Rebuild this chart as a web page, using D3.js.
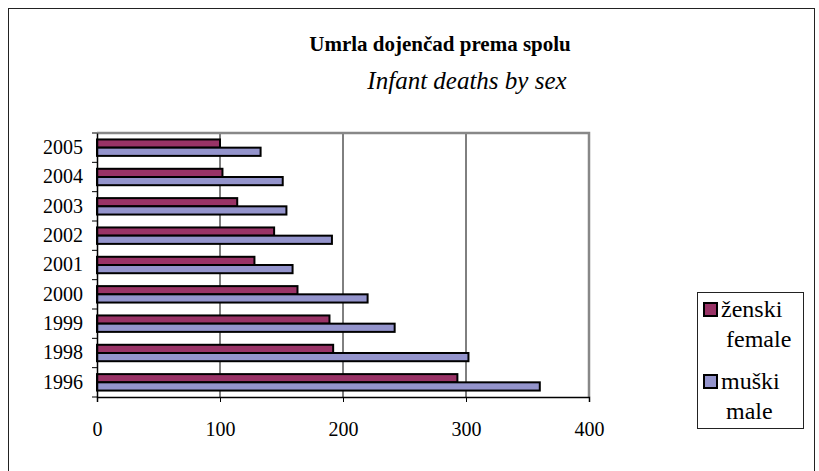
<!DOCTYPE html>
<html>
<head>
<meta charset="utf-8">
<script src="https://cdn.jsdelivr.net/npm/d3@7"></script>
<style>
	body { margin: 0; background: #fff; }
	svg { display: block; }
	svg text { font-family: 'Liberation Serif', 'Times New Roman', serif; fill: #000; }
</style>
</head>
<body>
<svg width="819" height="471"></svg>
<script>
// data
let years = ['2005', '2004', '2003', '2002', '2001', '2000', '1999', '1998', '1996'];
let female = [100, 102, 114, 144, 128, 163, 189, 192, 293];
let male = [133, 151, 154, 191, 159, 220, 242, 302, 360];
let xTicks = [0, 100, 200, 300, 400];
let seriesNames = [['ženski', 'female'], ['muški', 'male']];
let colors = ['#993366', '#9494cc'];

let svg = d3.select('svg');

// outer frame
svg.append('rect')
	.attr('x', 8.5).attr('y', 8.5)
	.attr('width', 806).attr('height', 480)
	.attr('fill', 'none')
	.attr('stroke', '#222')
	.attr('stroke-width', 1);

svg.append('text')
	.attr('x', 440).attr('y', 51)
	.attr('text-anchor', 'middle')
	.style('font-size', '21px')
	.style('font-weight', 'bold')
	.text('Umrla dojenčad prema spolu');

svg.append('text')
	.attr('x', 467).attr('y', 89)
	.attr('text-anchor', 'middle')
	.style('font-size', '25px')
	.style('font-style', 'italic')
	.text('Infant deaths by sex');

let margin = { top: 133, left: 97 };
let width = 492;
let height = 264;

let chart = svg.append('g')
	.attr('transform', 'translate(' + margin.left + ', ' + margin.top + ')');

let x = d3.scaleLinear().domain([0, 400]).range([0, width]);
let y = d3.scaleBand().domain(years).range([0, height]);
let y1 = d3.scaleBand().domain([0, 1])
	.range([y.bandwidth() * 0.22, y.bandwidth() * 0.78]);

// grid lines
chart.selectAll('.grid')
	.data(xTicks.filter(d => d > 0 && d < 400))
	.enter()
	.append('line')
	.attr('x1', d => x(d)).attr('x2', d => x(d))
	.attr('y1', 0).attr('y2', height)
	.attr('stroke', '#000')
	.attr('stroke-width', 1);

// plot border (top and right)
chart.append('path')
	.attr('d', 'M0,0H' + width + 'V' + height)
	.attr('fill', 'none')
	.attr('stroke', '#888')
	.attr('stroke-width', 2.5);

// bars
let series = [female, male];
series.forEach((vals, s) => {
	chart.selectAll('.bar' + s)
		.data(vals)
		.enter()
		.append('rect')
		.attr('x', 0)
		.attr('y', (d, i) => y(years[i]) + y1(s))
		.attr('width', d => x(d))
		.attr('height', y1.bandwidth())
		.attr('fill', colors[s])
		.attr('stroke', '#000')
		.attr('stroke-width', 2);
});

// axes
let xAxis = d3.axisBottom(x).tickValues(xTicks).tickSize(5).tickPadding(20);
let yAxis = d3.axisLeft(y).tickSize(0).tickPadding(14);

let gx = chart.append('g')
	.attr('transform', 'translate(0, ' + height + ')')
	.call(xAxis);

let gy = chart.append('g').call(yAxis);

// y ticks sit between categories
gy.selectAll('.sep')
	.data(d3.range(years.length + 1))
	.enter()
	.append('line')
	.attr('x1', -5).attr('x2', 0)
	.attr('y1', d => d * y.step()).attr('y2', d => d * y.step())
	.attr('stroke', '#000');

[gx, gy].forEach(g => {
	g.attr('font-family', null);
	g.select('.domain').attr('stroke', '#000').attr('stroke-width', 1.5);
	g.selectAll('text')
		.style('font-size', '20px')
		.attr('fill', '#000');
	g.selectAll('.tick line').attr('stroke', '#000');
});

// legend
let legend = svg.append('g').attr('transform', 'translate(697, 292)');
legend.append('rect')
	.attr('x', 0.5).attr('y', 0.5)
	.attr('width', 106).attr('height', 136)
	.attr('fill', '#fff')
	.attr('stroke', '#222');

seriesNames.forEach((names, i) => {
	let g = legend.append('g').attr('transform', 'translate(0, ' + (i * 72) + ')');
	g.append('rect')
		.attr('x', 7).attr('y', 11)
		.attr('width', 13).attr('height', 13)
		.attr('fill', colors[i])
		.attr('stroke', '#000')
		.attr('stroke-width', 2);
	g.append('text')
		.attr('x', 24).attr('y', 25)
		.style('font-size', '24px')
		.text(names[0]);
	g.append('text')
		.attr('x', 29).attr('y', 55)
		.style('font-size', '24px')
		.text(names[1]);
});
</script>
</body>
</html>
